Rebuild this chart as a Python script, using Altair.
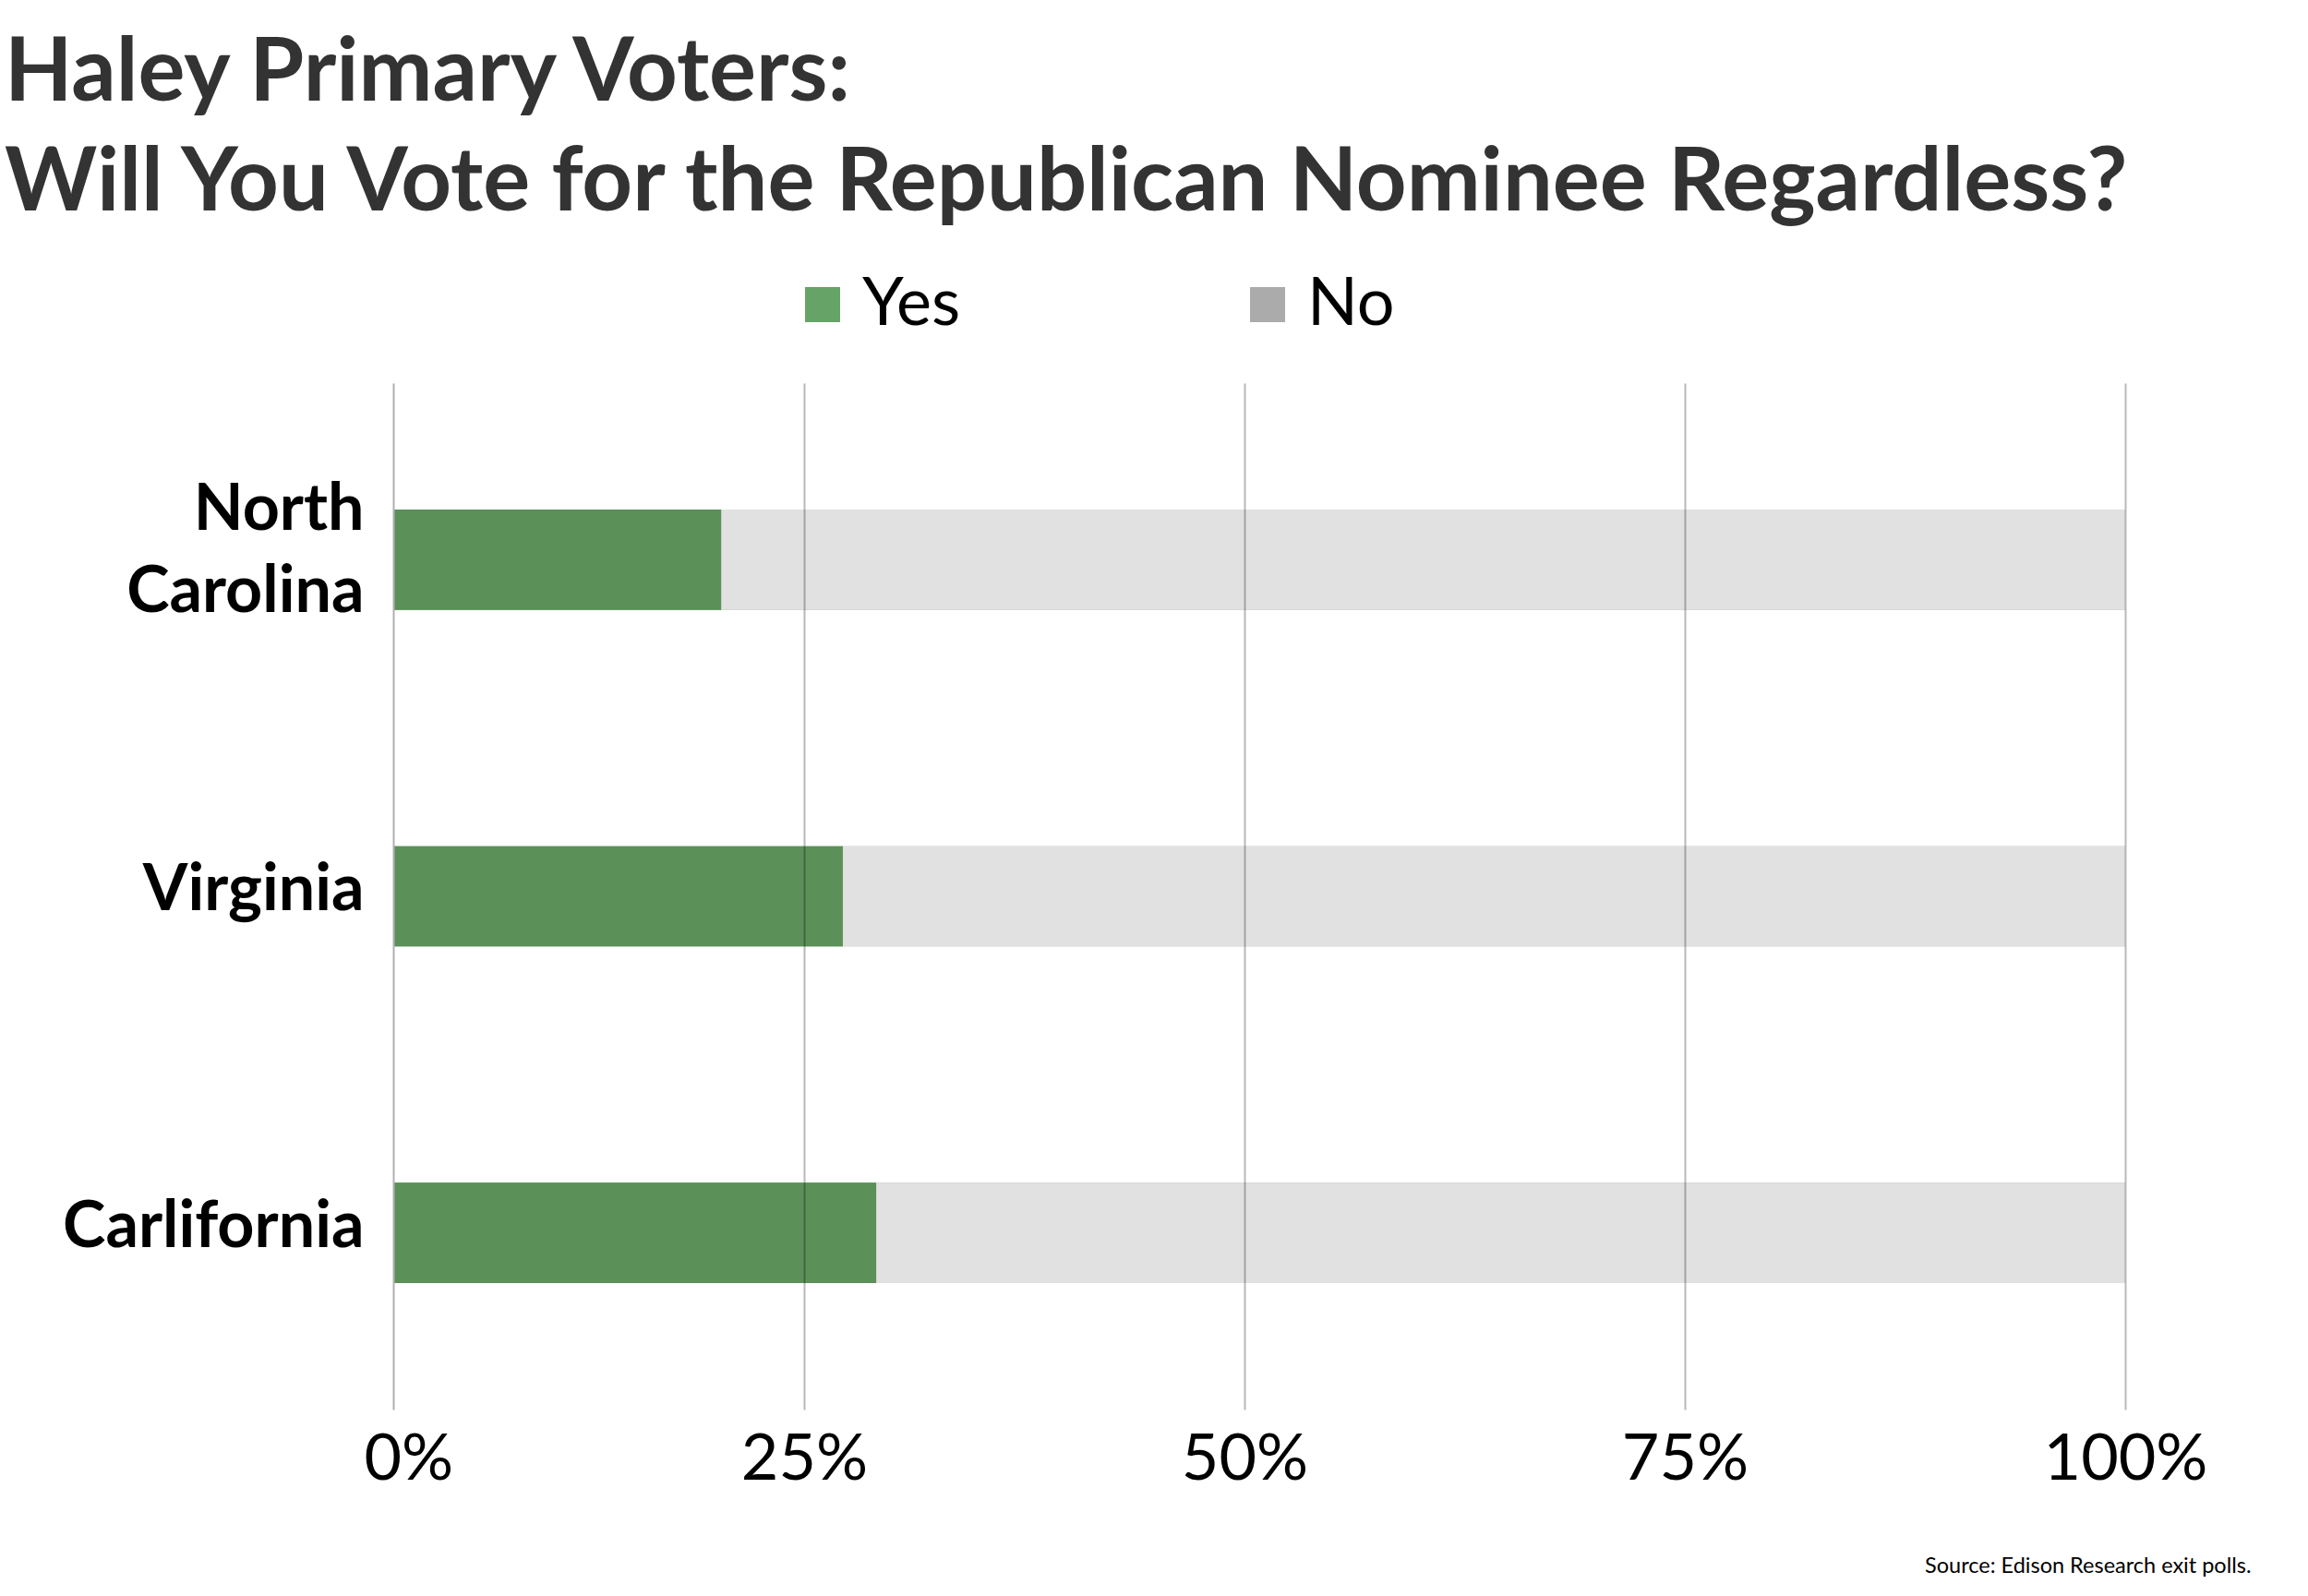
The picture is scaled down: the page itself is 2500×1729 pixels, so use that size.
import altair as alt
import pandas as pd

states = ["North Carolina", "Virginia", "Carlifornia"]
yes_values = [20.3, 27.2, 29.1]
responses = ["Yes", "No"]
bar_colors = ["#5b9059", "#e0e1e0"]
legend_colors = ["#66a366", "#ababab"]
tick_values = [0, 25, 50, 75, 100]

rows = []
for s, y in zip(states, yes_values):
    rows.append({"state": s, "response": "Yes", "value": y, "rank": 0})
    rows.append({"state": s, "response": "No", "value": round(100 - y, 1), "rank": 1})
df = pd.DataFrame(rows)

FONT = "Lato"

x_enc = alt.X(
    "value:Q",
    stack="zero",
    scale=alt.Scale(domain=[0, 100], range=[-32, 1876], nice=False, zero=False),
    axis=alt.Axis(
        values=tick_values,
        labelExpr="datum.value + '%'",
        labelFont=FONT,
        labelFontSize=70,
        labelColor="#000000",
        labelPadding=20,
        labelAlign={"condition": {"test": "datum.value == 0", "value": "left"}, "value": "center"},
        labelFlush=False,
        labelOverlap=False,
        ticks=False,
        domain=False,
        grid=True,
        gridColor="#000000",
        gridOpacity={"condition": {"test": "datum.value == 0", "value": 0}, "value": 0.28},
        gridWidth=2,
        zindex=1,
        title="Source: Edison Research exit polls.",
        titleFont=FONT,
        titleFontSize=23.5,
        titleFontWeight="normal",
        titleColor="#000000",
        titleAnchor="end",
        titleAlign="right",
        titleBaseline="alphabetic",
        titleX=2012,
        titleY=176,
    ),
)

y_enc = alt.Y(
    "state:N",
    sort=states,
    scale=alt.Scale(paddingInner=0.702, paddingOuter=0.376),
    axis=alt.Axis(
        title=None,
        labelExpr="datum.label == 'North Carolina' ? ['North', 'Carolina'] : datum.label",
        labelFont=FONT,
        labelFontSize=70,
        labelFontWeight="bold",
        labelColor="#000000",
        labelPadding=32,
        labelLineHeight=89,
        labelBaseline="middle",
        labelOffset={"condition": {"test": "datum.value == 'North Carolina'", "value": -53}, "value": -6},
        labelLimit=1000,
        ticks=False,
        grid=False,
        domain=True,
        domainColor="#b0b0b0",
        domainWidth=2,
        zindex=1,
    ),
)

# bottom layer: carries the legend (legend swatch colours)
legend_bars = alt.Chart(df).mark_bar(clip=True).encode(
    x=x_enc,
    y=y_enc,
    color=alt.Color(
        "response:N",
        scale=alt.Scale(domain=responses, range=legend_colors),
        legend=alt.Legend(
            title=None,
            orient="none",
            legendX=429,
            legendY=-121,
            direction="horizontal",
            symbolType="square",
            symbolSize=1444,
            symbolStrokeWidth=0,
            symbolOpacity=1,
            labelFont=FONT,
            labelFontSize=72,
            labelColor="#000000",
            labelOffset=7,
            columnPadding=296,
            padding=0,
        ),
    ),
    order=alt.Order("rank:Q"),
)

# top layer: the visible bars
bars = alt.Chart(df).mark_bar(clip=True).encode(
    x=alt.X("value:Q", stack="zero"),
    y=alt.Y("state:N", sort=states),
    fill=alt.Fill(
        "response:N",
        scale=alt.Scale(domain=responses, range=bar_colors),
        legend=None,
    ),
    order=alt.Order("rank:Q"),
)

chart = alt.layer(legend_bars, bars).properties(
    width=1876,
    height=1112,
    title=alt.TitleParams(
        text=["Haley Primary Voters:", "Will You Vote for the Republican Nominee Regardless?"],
        anchor="start",
        frame="group",
        dx=-421,
        font=FONT,
        fontSize=95.5,
        fontWeight="bold",
        color="#333333",
        lineHeight=119,
        offset=46,
    ),
    autosize=alt.AutoSizeParams(type="none"),
    padding={"left": 426, "top": 415, "right": 198, "bottom": 202},
    background="#ffffff",
).configure_view(stroke=None)

chart.save("out.html", embed_options={"renderer": "svg", "actions": False})
